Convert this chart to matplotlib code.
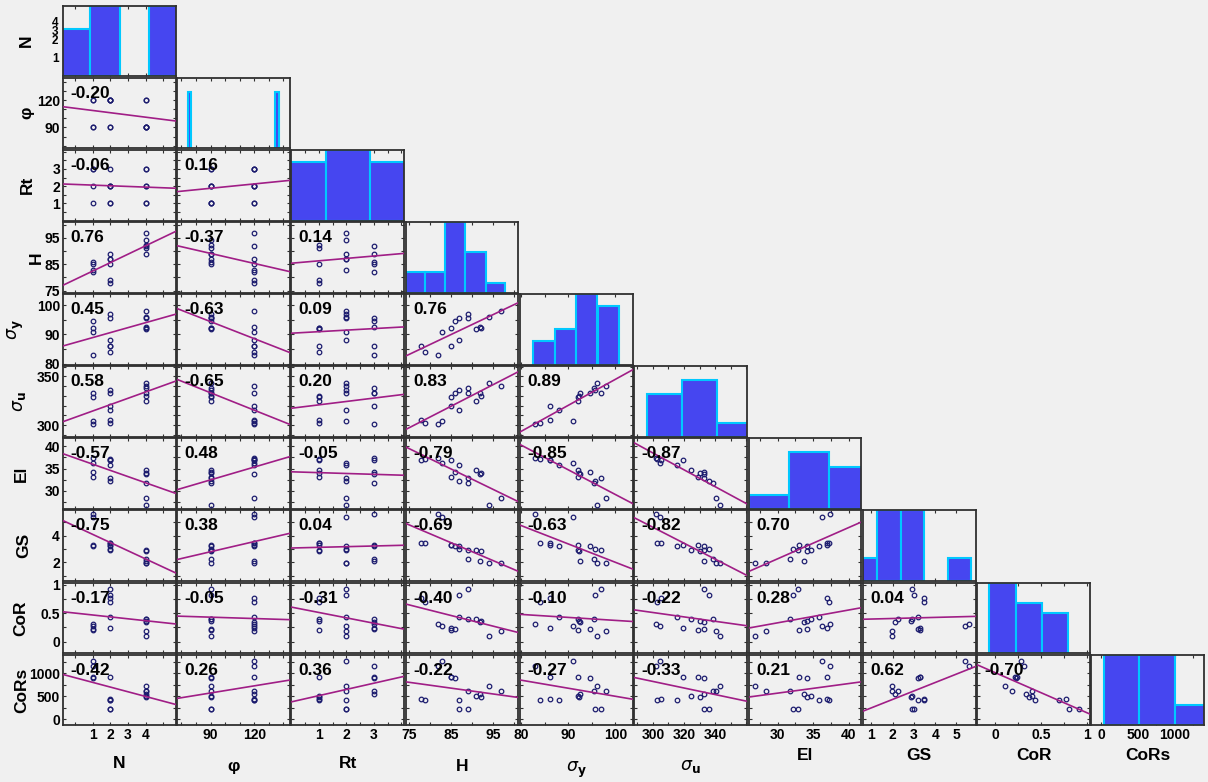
import numpy as np
import matplotlib
matplotlib.use("Agg")
import matplotlib.pyplot as plt
from matplotlib.ticker import FixedLocator, FixedFormatter

plt.rcParams['font.family'] = ['Liberation Sans', 'DejaVu Sans']
plt.rcParams['mathtext.fontset'] = 'dejavusans'

# ---- measurements, one entry per specimen ----
N = [2, 2, 1, 1, 1, 2, 1, 2, 2, 2, 4, 4, 4, 4, 4, 4]
phi = [120, 120, 120, 120, 90, 120, 90, 90, 120, 90, 90, 90, 120, 90, 90, 120]
Rt = [1, 1, 3, 2, 1, 3, 3, 2, 2, 2, 3, 1, 3, 1, 2, 2]
H = [77.8, 78.9, 81.9, 82.9, 84.9, 84.9, 86.0, 86.9, 86.9, 89.0, 89.0, 91.0, 91.9, 92.2, 94.0, 96.9]
sigma_y = [86.0, 84.0, 83.0, 91.0, 92.1, 86.0, 94.5, 95.6, 88.0, 96.9, 95.5, 92.0, 92.5, 92.3, 96.1, 98.0]
sigma_u = [305.5, 302.7, 301.7, 304.5, 329.0, 319.6, 332.6, 335.8, 315.7, 332.6, 338.5, 324.7, 333.0, 330.0, 342.9, 340.5]
El = [37.0, 37.2, 37.4, 36.2, 33.0, 37.0, 34.2, 32.1, 35.9, 32.9, 31.7, 34.7, 33.7, 34.1, 26.8, 28.3]
GS = [3.45, 3.45, 5.60, 5.38, 3.30, 3.30, 3.20, 3.00, 3.20, 2.93, 2.25, 2.93, 2.13, 2.88, 1.95, 1.95]
CoR = [0.77, 0.70, 0.31, 0.28, 0.21, 0.24, 0.22, 0.81, 0.43, 0.92, 0.40, 0.40, 0.34, 0.37, 0.10, 0.18]
CoRs = [445, 416, 1150, 1270, 905, 905, 890, 212, 416, 219, 613, 504, 548, 490, 708, 613]

names = ['N', 'φ', 'Rt', 'H', r'$\sigma_{\mathbf{y}}$', r'$\sigma_{\mathbf{u}}$', 'El', 'GS', 'CoR', 'CoRs']
columns = [N, phi, Rt, H, sigma_y, sigma_u, El, GS, CoR, CoRs]

# Pearson coefficients, lower triangle, row by row
corr_rows = [
    [],
    [-0.20],
    [-0.06, 0.16],
    [0.76, -0.37, 0.14],
    [0.45, -0.63, 0.09, 0.76],
    [0.58, -0.65, 0.20, 0.83, 0.89],
    [-0.57, 0.48, -0.05, -0.79, -0.85, -0.87],
    [-0.75, 0.38, 0.04, -0.69, -0.63, -0.82, 0.70],
    [-0.17, -0.05, -0.31, -0.40, -0.10, -0.22, 0.28, 0.04],
    [-0.42, 0.26, 0.36, -0.22, -0.27, -0.33, 0.21, 0.62, -0.70],
]

# histogram bins for the diagonal panels
hist_edges = [
    [-0.84, 0.84, 2.52, 4.20, 5.88],
    [74.5, 76.8, 134.6, 136.9],
    [-0.35, 1.26, 2.87, 4.48],
    [74.2, 78.9, 83.6, 88.4, 93.2, 97.9],
    [82.4, 87.1, 91.7, 96.2, 100.8],
    [296.4, 318.6, 340.9, 363.2],
    [26.0, 31.6, 37.2, 42.8],
    [0.18, 1.28, 2.38, 3.48, 4.58, 5.68],
    [-0.066, 0.221, 0.508, 0.790],
    [41, 516, 1000, 1480],
]
hist_counts = [
    [4, 6, 0, 6],
    [8, 0, 8],
    [5, 6, 5],
    [2, 2, 7, 4, 1],
    [2, 3, 6, 5],
    [6, 8, 2],
    [2, 8, 6],
    [2, 6, 6, 0, 2],
    [7, 5, 4],
    [7, 7, 2],
]
hist_top = [6, 10, 6, 7, 6, 10, 10, 6, 7, 7]

# axis limits, tick positions and labelled ticks
limits = [(-0.7, 5.7), (67, 144.5), (0.0, 4.1), (74.2, 101.0), (79.7, 103.7),
          (288, 360.5), (25.9, 41.8), (0.6, 5.9), (-0.2, 1.035), (-135, 1400)]
tick_pos = [np.arange(0, 6, 1), np.arange(70, 141, 10), np.arange(0.5, 4.01, 0.5),
            np.arange(75, 101, 5), np.arange(80, 101, 5), np.arange(290, 361, 10),
            np.arange(27.5, 41, 2.5), np.arange(1, 6, 1), np.arange(-0.25, 1.01, 0.25),
            np.arange(0, 1301, 250)]
xlab_vals = [[1, 2, 3, 4], [90, 120], [1, 2, 3], [75, 85, 95], [80, 90, 100],
             [300, 320, 340], [30, 35, 40], [1, 2, 3, 4, 5], [0, 0.5, 1], [0, 500, 1000]]
ylab_vals = [[1, 2, 3, 4], [90, 120], [1, 2, 3], [75, 85, 95], [80, 90, 100],
             [300, 350], [30, 35, 40], [2, 4], [0, 0.5, 1], [0, 500, 1000]]

# label placement in figure pixels (centre of each name)
ylabel_x = [28, 28, 29, 38, 20, 22, 23, 25, 22, 23]
xlabel_y = [763, 766, 763, 766, 767, 765, 755, 755, 755, 755]


def fmt(v):
    return ('%g' % v)


def set_ticks(axis, pos, labelled, show):
    pos = list(pos)
    for v in labelled:
        if not any(abs(v - p) < 1e-9 for p in pos):
            pos.append(v)
    pos = sorted(pos)
    labels = [fmt(p) if (show and any(abs(p - v) < 1e-9 for v in labelled)) else '' for p in pos]
    axis.set_major_locator(FixedLocator(pos))
    axis.set_major_formatter(FixedFormatter(labels))


BG = '#f0f0f0'
BAR = '#4646f0'
BAR_EDGE = '#00c8ff'
LINE = '#a01e86'
DOT = '#1c1c6e'

W, Hpx = 1208, 782
fig = plt.figure(figsize=(W / 100, Hpx / 100), dpi=100, facecolor=BG)

n = 10
x0, x1, y0, y1 = 62, 1205, 5, 726
px = (x1 - x0) / n
py = (y1 - y0) / n
gap = 1.5

for i in range(n):
    for j in range(i + 1):
        left = x0 + j * px + gap / 2
        top = y0 + i * py + gap / 2
        aw, ah = px - gap, py - gap
        ax = fig.add_axes([left / W, 1 - (top + ah) / Hpx, aw / W, ah / Hpx])
        ax.set_facecolor(BG)
        for s in ax.spines.values():
            s.set_color('#303030')
            s.set_linewidth(1.3)
        ax.set_xlim(*limits[j])
        set_ticks(ax.xaxis, tick_pos[j], xlab_vals[j], i == n - 1)
        ax.tick_params(axis='both', direction='in', length=2.5, width=0.8, color='#303030',
                       top=True, right=True, labelsize=10, pad=2)

        if i == j:
            e = np.array(hist_edges[i], dtype=float)
            c = np.array(hist_counts[i], dtype=float)
            keep = c > 0
            ax.bar(e[:-1][keep], c[keep], width=np.diff(e)[keep], align='edge',
                   color=BAR, edgecolor=BAR_EDGE, linewidth=1.5, zorder=2)
            ax.set_ylim(0, hist_top[i])
            if i == 0:
                # N row: the value ticks sit on the histogram's own scale
                ax.yaxis.set_major_locator(FixedLocator([1.56, 3.17, 3.90, 4.62]))
                ax.yaxis.set_major_formatter(FixedFormatter(['1', '2', '3', '4']))
                ax.tick_params(axis='y', length=0, labelsize=8.5, pad=3)
            else:
                ax.set_yticks([])
                ax.tick_params(axis='y', left=False, right=False)
        else:
            xv = np.array(columns[j], dtype=float)
            yv = np.array(columns[i], dtype=float)
            ax.set_ylim(*limits[i])
            set_ticks(ax.yaxis, tick_pos[i], ylab_vals[i], j == 0)
            ax.plot(xv, yv, 'o', ms=3.3, mfc='none', mec=DOT, mew=0.9, zorder=3)
            r = corr_rows[i][j]
            slope = r * yv.std() / xv.std()
            icpt = yv.mean() - slope * xv.mean()
            xs = np.array(limits[j])
            ax.plot(xs, icpt + slope * xs, color=LINE, lw=1.2, zorder=4)
            ax.text(0.065, 0.78, '%.2f' % r, transform=ax.transAxes, ha='left', va='center',
                    fontsize=12.5, fontweight='bold', color='black', zorder=5)

        for lab in ax.get_xticklabels() + ax.get_yticklabels():
            lab.set_fontweight('bold')
        if j == 0:
            ax.set_ylabel(names[i], fontsize=12.5, fontweight='bold')
            ax.yaxis.set_label_coords((ylabel_x[i] + 6 - left) / aw, 0.5)
        if i == n - 1:
            ax.set_xlabel(names[j], fontsize=12.5, fontweight='bold')
            ax.xaxis.set_label_coords(0.5, -(xlabel_y[j] - 7 - (top + ah)) / ah)

fig.savefig('out.png', dpi=100, facecolor=BG)
